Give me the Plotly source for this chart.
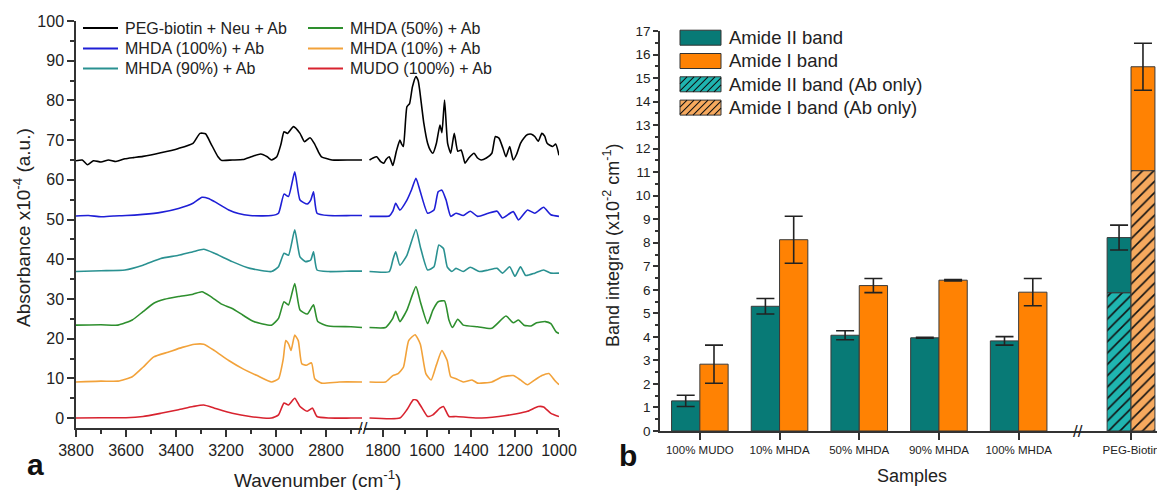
import plotly.graph_objects as go

W, H = 1157, 490

# ---------------- Panel a: FTIR spectra (wavenumber, absorbance x1e-4) ----------------
peg_wn = [3800, 3775, 3754, 3730, 3700, 3670, 3640, 3604, 3570, 3532, 3461, 3390, 3332, 3304, 3282, 3261, 3232,
          3218, 3175, 3132, 3095, 3061, 3035, 3018, 2997, 2980, 2968, 2954, 2930, 2904, 2886, 2864, 2847, 2830,
          2818, 2776, 2700, 2655,
          1861, 1845, 1828, 1810, 1796, 1785, 1771, 1755, 1739, 1723, 1715, 1707, 1691, 1679, 1666, 1650, 1640,
          1633, 1614, 1597, 1585, 1573, 1557, 1541, 1532, 1520, 1506, 1492, 1476, 1460, 1445, 1435, 1427, 1410,
          1386, 1370, 1354, 1330, 1305, 1289, 1273, 1255, 1241, 1224, 1208, 1192, 1175, 1160, 1143, 1125, 1110,
          1094, 1078, 1065, 1054, 1029, 1015, 1000]
peg_abs = [64.8, 65.0, 63.8, 64.8, 64.5, 65.0, 64.6, 65.3, 65.6, 65.9, 66.8, 67.9, 69.2, 71.7, 71.6, 69.2, 65.8,
           64.9, 65.0, 65.1, 65.9, 66.5, 65.8, 65.0, 65.8, 69.0, 72.1, 71.7, 73.4, 71.7, 69.6, 70.6, 69.2, 67.0,
           65.8, 65.0, 65.0, 65.0,
           65.0, 65.5, 65.8, 64.6, 64.2, 65.2, 65.8, 63.6, 67.2, 70.0, 69.0, 68.4, 78.4, 79.2, 83.4, 86.0, 85.0,
           82.6, 74.2, 69.2, 67.5, 66.7, 69.2, 73.8, 71.9, 80.1, 69.2, 66.7, 71.7, 67.2, 67.5, 65.8, 64.2, 65.5,
           66.7, 65.5, 65.0, 65.5, 66.7, 70.9, 70.5, 68.0, 65.8, 68.4, 65.0, 66.5, 69.2, 70.5, 71.4, 71.5, 70.9,
           69.7, 71.7, 71.0, 69.2, 68.4, 69.0, 66.2]

mhda100_wn = [3800, 3750, 3700, 3650, 3600, 3532, 3461, 3390, 3332, 3296, 3270, 3246, 3189, 3150, 3104, 3018, 2990,
              2968, 2950, 2925, 2904, 2875, 2861, 2850, 2836, 2790, 2700, 2655,
              1861, 1800, 1771, 1755, 1742, 1723, 1691, 1670, 1650, 1630, 1597, 1568, 1549, 1532, 1513, 1492, 1468,
              1435, 1403, 1370, 1321, 1281, 1257, 1208, 1184, 1143, 1110, 1070, 1037, 1000]
mhda100_abs = [50.9, 51.0, 50.7, 50.9, 51.0, 51.3, 51.8, 52.8, 54.1, 55.6, 55.3, 54.5, 52.4, 51.5, 51.0, 51.0, 51.6,
               56.4, 55.8, 62.0, 54.9, 53.9, 54.9, 57.0, 51.6, 51.0, 51.0, 51.0,
               50.8, 50.8, 50.9, 52.1, 54.1, 52.4, 54.9, 57.5, 60.4, 57.0, 51.6, 52.4, 57.0, 57.4, 54.9, 50.8, 51.6,
               51.0, 52.1, 50.8, 51.6, 52.1, 50.4, 52.0, 49.9, 52.4, 51.6, 53.1, 51.2, 50.8]

mhda90_wn = [3800, 3700, 3604, 3532, 3461, 3390, 3332, 3289, 3246, 3175, 3104, 3018, 2990, 2968, 2950, 2925, 2904,
             2882, 2861, 2850, 2836, 2790, 2700, 2655,
             1861, 1771, 1755, 1742, 1723, 1691, 1650, 1630, 1597, 1568, 1546, 1525, 1508, 1487, 1468, 1435, 1403,
             1362, 1321, 1281, 1257, 1224, 1200, 1175, 1151, 1110, 1070, 1037, 1000]
mhda90_abs = [36.9, 37.1, 37.3, 38.5, 40.2, 41.0, 41.9, 42.5, 41.5, 39.4, 37.7, 36.9, 38.1, 41.5, 41.0, 47.4, 40.6,
              39.4, 39.8, 41.9, 37.3, 36.9, 37.0, 37.0,
              36.9, 36.9, 39.8, 41.9, 38.5, 41.0, 47.5, 43.1, 37.3, 38.1, 43.6, 42.7, 38.1, 36.9, 37.7, 36.9, 38.0,
              36.9, 37.3, 37.7, 36.5, 38.1, 35.7, 38.1, 35.9, 36.5, 37.3, 36.5, 36.5]

mhda50_wn = [3800, 3700, 3632, 3575, 3532, 3489, 3446, 3390, 3332, 3296, 3261, 3218, 3175, 3132, 3089, 3018, 2990,
             2968, 2950, 2925, 2904, 2875, 2850, 2833, 2790, 2700, 2655,
             1861, 1788, 1755, 1742, 1723, 1691, 1650, 1630, 1597, 1573, 1549, 1520, 1500, 1484, 1460, 1435, 1370,
             1305, 1241, 1208, 1184, 1159, 1127, 1102, 1062, 1037, 1013, 1000]
mhda50_abs = [23.4, 23.5, 23.4, 24.7, 26.8, 28.9, 29.9, 30.6, 31.2, 31.8, 30.6, 28.7, 27.6, 25.9, 24.3, 23.4, 25.1,
              29.3, 28.5, 33.9, 27.2, 26.2, 28.5, 24.3, 23.2, 23.0, 22.8,
              22.8, 22.8, 25.1, 26.9, 24.3, 27.2, 33.1, 29.3, 23.8, 27.2, 29.3, 29.5, 24.7, 22.8, 24.9, 23.4, 23.0,
              22.6, 25.7, 24.0, 24.7, 23.4, 23.2, 24.0, 24.3, 23.8, 21.7, 21.3]

mhda10_wn = [3800, 3700, 3632, 3575, 3532, 3489, 3432, 3375, 3325, 3289, 3246, 3189, 3132, 3075, 3018, 2990, 2971,
             2961, 2950, 2940, 2925, 2911, 2897, 2879, 2858, 2845, 2818, 2747, 2655,
             1861, 1788, 1755, 1731, 1707, 1683, 1654, 1630, 1605, 1581, 1557, 1532, 1508, 1492, 1468, 1435, 1395,
             1370, 1305, 1257, 1208, 1175, 1143, 1110, 1078, 1046, 1021, 1000]
mhda10_abs = [9.1, 9.3, 9.3, 10.4, 12.8, 15.4, 16.6, 17.8, 18.6, 18.6, 17.0, 14.5, 12.4, 10.7, 9.1, 9.9, 14.9,
              19.5, 18.7, 17.0, 20.9, 19.5, 13.7, 13.3, 13.9, 9.9, 8.8, 9.1, 9.1,
              9.1, 9.1, 10.7, 11.2, 12.8, 19.5, 21.0, 18.6, 11.2, 9.6, 13.4, 17.0, 14.5, 10.4, 9.9, 9.1, 9.6,
              8.8, 9.1, 10.4, 10.7, 9.6, 8.4, 9.6, 10.7, 11.2, 9.6, 8.4]

mudo_wn = [3800, 3700, 3600, 3532, 3461, 3390, 3332, 3289, 3246, 3175, 3104, 3018, 2990, 2968, 2950, 2925, 2904,
           2875, 2854, 2836, 2790, 2700, 2655,
           1861, 1723, 1691, 1662, 1646, 1622, 1597, 1573, 1541, 1525, 1500, 1468, 1370, 1273, 1192, 1143, 1094,
           1070, 1037, 1000]
mudo_abs = [0.0, 0.1, 0.1, 0.4, 1.2, 2.1, 2.9, 3.3, 2.5, 1.2, 0.4, 0.0, 0.8, 3.8, 3.3, 5.0, 2.9,
            1.7, 2.5, 0.4, 0.0, 0.0, 0.0,
            0.0, 0.0, 2.1, 4.6, 4.5, 2.5, 0.4, 0.8, 2.5, 2.9, 0.4, 0.4, 0.0, 0.4, 1.1, 1.7, 2.9,
            2.8, 1.2, 0.4]

series_names = ["PEG-biotin + Neu + Ab", "MHDA (100%) + Ab", "MHDA (90%) + Ab",
                "MHDA (50%) + Ab", "MHDA (10%) + Ab", "MUDO (100%) + Ab"]
series_colors = ["#000000", "#1f1fd6", "#2a9191", "#2e8f2e", "#f2a23a", "#d8232f"]
series_wn = [peg_wn, mhda100_wn, mhda90_wn, mhda50_wn, mhda10_wn, mudo_wn]
series_abs = [peg_abs, mhda100_abs, mhda90_abs, mhda50_abs, mhda10_abs, mudo_abs]

# ---------------- Panel b: band integrals (x1e-2 cm^-1) ----------------
samples = ["100% MUDO", "10% MHDA", "50% MHDA", "90% MHDA", "100% MHDA", "PEG-Biotin"]
sample_pos = [1, 2, 3, 4, 5, 6.41]
bar_width = [0.355, 0.355, 0.355, 0.355, 0.355, 0.30]
amide2 = [1.28, 5.30, 4.07, 3.96, 3.83, 8.22]
amide2_err = [0.24, 0.33, 0.19, 0.02, 0.18, 0.53]
amide1 = [2.84, 8.13, 6.18, 6.41, 5.90, 15.48]
amide1_err = [0.81, 1.00, 0.30, 0.03, 0.58, 1.00]
amide2_ab_only = [0, 0, 0, 0, 0, 5.87]
amide1_ab_only = [0, 0, 0, 0, 0, 11.06]
bar_legend = ["Amide II band", "Amide I band", "Amide II band (Ab only)", "Amide I band (Ab only)"]

TEAL = "#087a76"
ORANGE = "#ff8203"
TEAL_H = "#1fb5b0"
ORANGE_H = "#f6a95e"
FONT = "Arial, Liberation Sans, sans-serif"
TXT = "#222222"

fig = go.Figure()

for name, col, wn, ab in zip(series_names, series_colors, series_wn, series_abs):
    hx = [w for w in wn if w > 2000]
    hy = [a for w, a in zip(wn, ab) if w > 2000]
    lx = [w for w in wn if w < 2000]
    ly = [a for w, a in zip(wn, ab) if w < 2000]
    for xs, ys, xa in [(hx, hy, "x"), (lx, ly, "x2")]:
        fig.add_trace(go.Scatter(x=xs, y=ys, mode="lines", name=name,
                                 line=dict(color=col, width=1.6, shape="spline", smoothing=0.5),
                                 xaxis=xa, yaxis="y"))

# bars
n = len(samples)
a2_len = [t - b for t, b in zip(amide2, amide2_ab_only)]
a1_len = [t - b for t, b in zip(amide1, amide1_ab_only)]
neg_w = [-w for w in bar_width]
zero_off = [0] * n
outline = dict(color="#3a3a3a", width=1)
pat = dict(shape="/", fgcolor="#111111", size=8, solidity=0.2)

fig.add_trace(go.Bar(x=sample_pos, y=a2_len, base=amide2_ab_only, width=bar_width, offset=neg_w,
                     marker=dict(color=TEAL, line=outline), name=bar_legend[0], xaxis="x3", yaxis="y3"))
fig.add_trace(go.Bar(x=sample_pos, y=a1_len, base=amide1_ab_only, width=bar_width, offset=zero_off,
                     marker=dict(color=ORANGE, line=outline), name=bar_legend[1], xaxis="x3", yaxis="y3"))
fig.add_trace(go.Bar(x=sample_pos[-1:], y=amide2_ab_only[-1:], width=bar_width[-1:], offset=neg_w[-1:],
                     marker=dict(color=TEAL_H, line=outline, pattern=dict(bgcolor=TEAL_H, **pat)),
                     name=bar_legend[2], xaxis="x3", yaxis="y3"))
fig.add_trace(go.Bar(x=sample_pos[-1:], y=amide1_ab_only[-1:], width=bar_width[-1:], offset=zero_off[-1:],
                     marker=dict(color=ORANGE_H, line=outline, pattern=dict(bgcolor=ORANGE_H, **pat)),
                     name=bar_legend[3], xaxis="x3", yaxis="y3"))

# error bars
a2_x = [p - w / 2 for p, w in zip(sample_pos, bar_width)]
a1_x = [p + w / 2 for p, w in zip(sample_pos, bar_width)]
for ex, ey, ee in [(a2_x, amide2, amide2_err), (a1_x, amide1, amide1_err)]:
    fig.add_trace(go.Scatter(x=ex, y=ey, mode="markers", marker=dict(size=1, color="rgba(0,0,0,0)"),
                             error_y=dict(type="data", array=ee, visible=True, color=TXT,
                                          thickness=1.6, width=9),
                             xaxis="x3", yaxis="y3", hoverinfo="skip"))


def px(x):
    return x / W


def py(y):
    return 1 - y / H


shapes = []
annotations = []

# legend of panel a (two columns, three rows)
leg_cols = [83, 83, 83, 308, 308, 308]
leg_rows = [28, 48.5, 68.5, 28, 48.5, 68.5]
for name, col, lx0, ly0 in zip(series_names, series_colors, leg_cols, leg_rows):
    shapes.append(dict(type="line", xref="paper", yref="paper", x0=px(lx0), x1=px(lx0 + 35),
                       y0=py(ly0), y1=py(ly0), line=dict(color=col, width=1.8)))
    annotations.append(dict(text=name, x=px(lx0 + 40), y=py(ly0), xref="paper", yref="paper", showarrow=False,
                            xanchor="left", yanchor="middle", font=dict(family=FONT, size=16, color=TXT)))

# legend of panel b
box_fill = [TEAL, ORANGE, TEAL_H, ORANGE_H]
box_hatch = [False, False, True, True]
for i, (lab, fc, hatch) in enumerate(zip(bar_legend, box_fill, box_hatch)):
    cy = 37.7 + 23.3 * i
    bx0, bx1, by0, by1 = 680, 721, cy - 7.5, cy + 7.5
    shapes.append(dict(type="rect", xref="paper", yref="paper", x0=px(bx0), x1=px(bx1), y0=py(by1), y1=py(by0),
                       fillcolor=fc, line=dict(color="#333333", width=1)))
    if hatch:
        hh = by1 - by0
        t = bx0 - hh
        while t < bx1:
            u0 = max(0.0, (bx0 - t) / hh)
            u1 = min(1.0, (bx1 - t) / hh)
            if u1 > u0:
                shapes.append(dict(type="line", xref="paper", yref="paper",
                                   x0=px(t + hh * u0), y0=py(by1 - hh * u0),
                                   x1=px(t + hh * u1), y1=py(by1 - hh * u1),
                                   line=dict(color="#111111", width=1.1)))
            t += 7
    annotations.append(dict(text=lab, x=px(727), y=py(cy), xref="paper", yref="paper", showarrow=False,
                            xanchor="left", yanchor="middle", font=dict(family=FONT, size=18.5, color=TXT)))

annotations += [
    dict(text="//", x=px(363), y=py(428), xref="paper", yref="paper", showarrow=False,
         font=dict(family=FONT, size=17, color=TXT), xanchor="center", yanchor="middle"),
    dict(text="//", x=px(1078), y=py(431), xref="paper", yref="paper", showarrow=False,
         font=dict(family=FONT, size=17, color=TXT), xanchor="center", yanchor="middle"),
    dict(text="Wavenumber (cm<sup>-1</sup>)", x=px(317), y=py(479), xref="paper", yref="paper",
         showarrow=False, font=dict(family=FONT, size=19, color=TXT), xanchor="center", yanchor="middle"),
    dict(text="Absorbance x10<sup>-4</sup> (a.u.)", x=px(22), y=py(228), xref="paper", yref="paper",
         showarrow=False, textangle=-90, font=dict(family=FONT, size=19, color=TXT),
         xanchor="center", yanchor="middle"),
    dict(text="Samples", x=px(912), y=py(476), xref="paper", yref="paper", showarrow=False,
         font=dict(family=FONT, size=18, color=TXT), xanchor="center", yanchor="middle"),
    dict(text="Band integral (x10<sup>-2</sup> cm<sup>-1</sup>)", x=px(611), y=py(245), xref="paper",
         yref="paper", showarrow=False, textangle=-90, font=dict(family=FONT, size=18, color=TXT),
         xanchor="center", yanchor="middle"),
    dict(text="<b>a</b>", x=px(35), y=py(464), xref="paper", yref="paper", showarrow=False,
         font=dict(family=FONT, size=30, color="#111111"), xanchor="center", yanchor="middle"),
    dict(text="<b>b</b>", x=px(628), y=py(455), xref="paper", yref="paper", showarrow=False,
         font=dict(family=FONT, size=30, color="#111111"), xanchor="center", yanchor="middle"),
]

axis_common = dict(showline=True, linecolor="#333333", linewidth=1.5, ticks="outside", tickwidth=1.5,
                   tickcolor="#333333", showgrid=False, zeroline=False, automargin=False)
minor_style = dict(ticks="outside", tickcolor="#333333", tickwidth=1.5)

fig.update_layout(
    template="none",
    width=W, height=H, margin=dict(l=0, r=0, t=0, b=0, pad=0),
    paper_bgcolor="white", plot_bgcolor="rgba(0,0,0,0)",
    font=dict(family=FONT, color=TXT),
    showlegend=False,
    barmode="overlay",
    xaxis=dict(domain=[px(76), px(362)], range=[3800, 2656], anchor="y", dtick=200, tick0=0, ticklen=7,
               minor=dict(dtick=100, ticklen=4, **minor_style),
               tickfont=dict(family=FONT, size=16, color=TXT), **axis_common),
    xaxis2=dict(domain=[px(364), px(559)], range=[1886, 1000], anchor="y", dtick=200, tick0=0, ticklen=7,
                minor=dict(dtick=100, ticklen=4, **minor_style),
                tickfont=dict(family=FONT, size=16, color=TXT), **axis_common),
    yaxis=dict(domain=[py(428), py(21)], range=[-2.5, 100], anchor="x", dtick=10, tick0=0, ticklen=7,
               minor=dict(dtick=5, ticklen=4, **minor_style),
               tickfont=dict(family=FONT, size=16, color=TXT), **axis_common),
    xaxis3=dict(domain=[px(660), 1.0], range=[0.5, 6.736], anchor="y3", tickvals=sample_pos, ticktext=samples,
                ticklen=7, ticklabeloverflow="allow",
                tickfont=dict(family=FONT, size=11.5, color=TXT), **axis_common),
    yaxis3=dict(domain=[py(431), py(31)], range=[0, 17], anchor="x3", dtick=1, tick0=0, ticklen=5,
                minor=dict(dtick=0.5, ticklen=3, **minor_style),
                tickfont=dict(family=FONT, size=13.5, color=TXT), **axis_common),
    shapes=shapes,
    annotations=annotations,
)

fig.write_html("out.html", config={"displayModeBar": False},
               post_script="document.body.style.margin='0';document.body.style.overflow='hidden';")
